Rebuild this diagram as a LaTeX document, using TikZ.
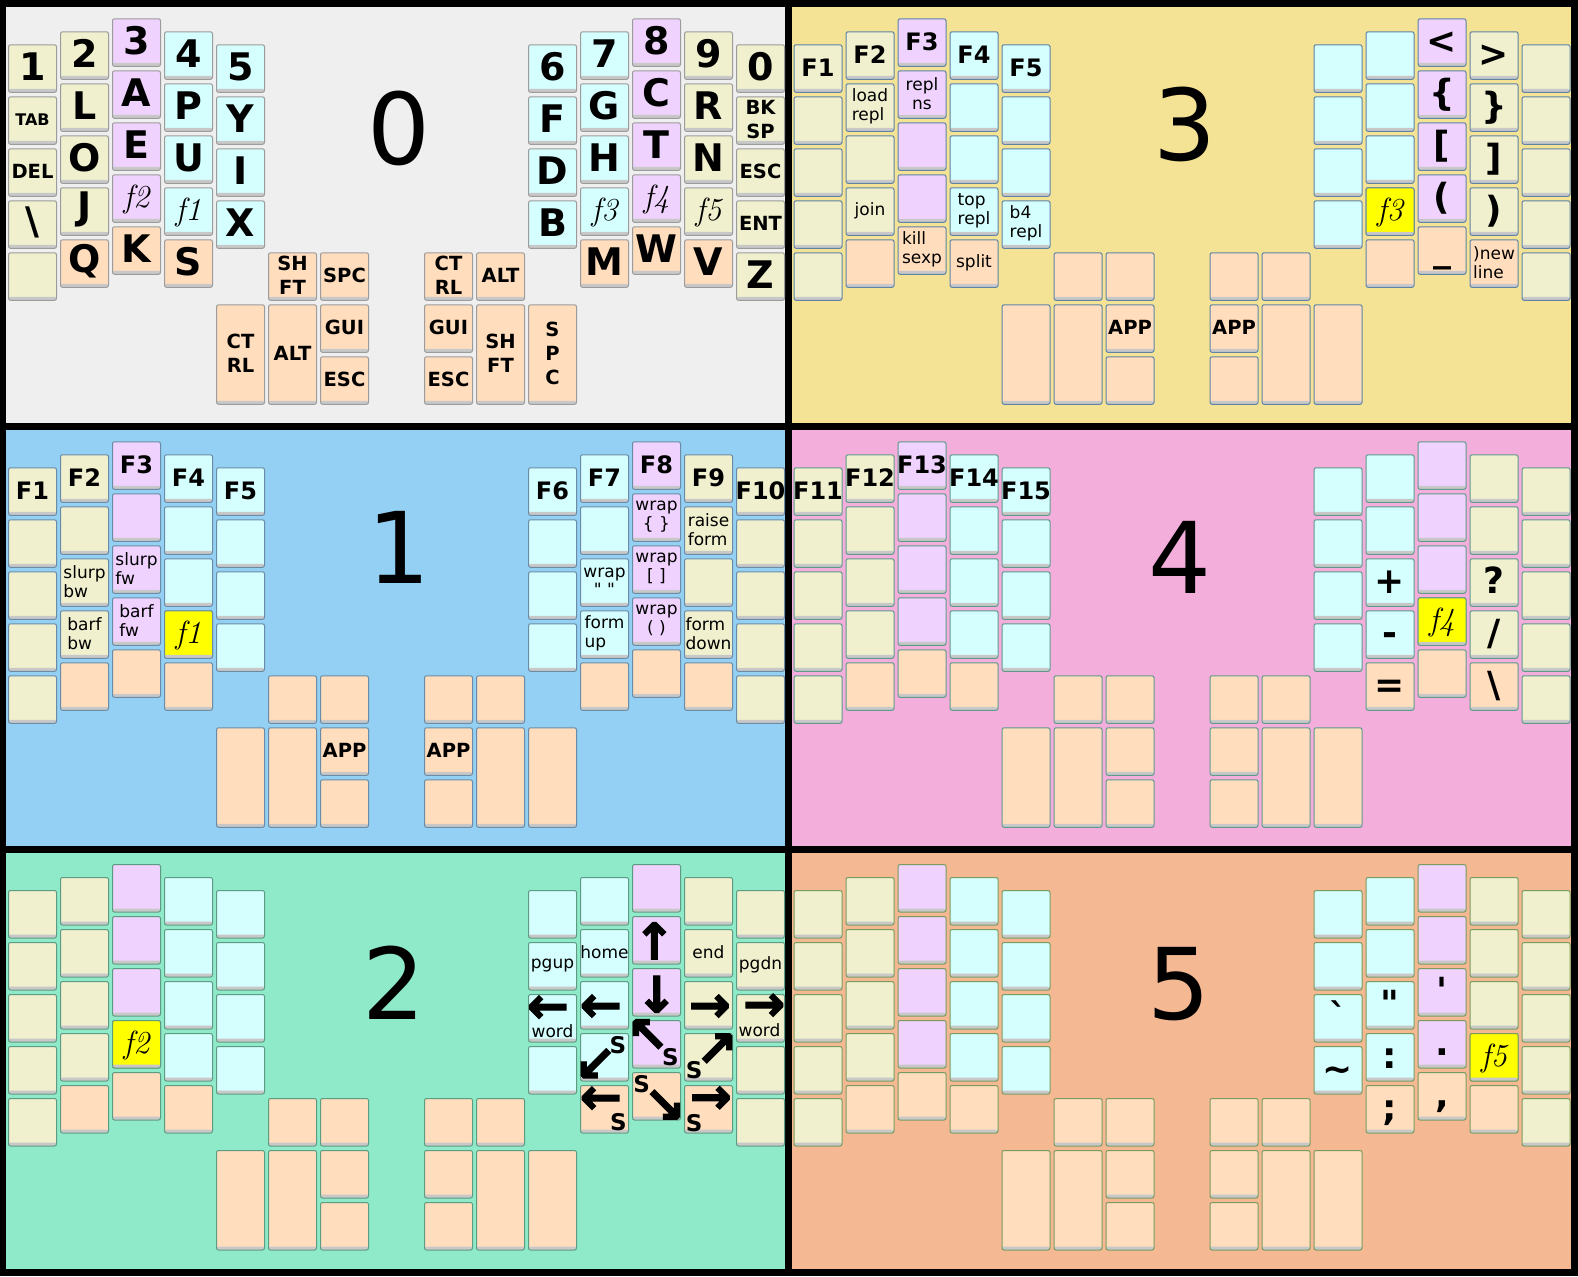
\documentclass[tikz,border=0pt]{standalone}
\usepackage{fontspec}
\newfontfamily\keyfont{DejaVu Sans}
\newfontfamily\arrowfont{DejaVu Sans Bold}[FakeBold=2.5]

\definecolor{kyel}{HTML}{F0F0CE}
\definecolor{kpur}{HTML}{F0D2FE}
\definecolor{kcya}{HTML}{D5FEFE}
\definecolor{kpea}{HTML}{FFDDBD}
\definecolor{hilite}{HTML}{FFFF00}
\definecolor{keyshade}{HTML}{C8C8C8}
\definecolor{bgzero}{HTML}{EFEFEF}
\definecolor{bgone}{HTML}{93D0F3}
\definecolor{bgtwo}{HTML}{8EEAC8}
\definecolor{bgthree}{HTML}{F4E394}
\definecolor{bgfour}{HTML}{F4AEDB}
\definecolor{bgfive}{HTML}{F4B893}
\definecolor{edgezero}{HTML}{9C9C9C}
\definecolor{edgeone}{HTML}{6A8CA6}
\definecolor{edgetwo}{HTML}{5D9C82}
\definecolor{edgethree}{HTML}{5E83A5}
\definecolor{edgefour}{HTML}{5F9A8D}
\definecolor{edgefive}{HTML}{789C5E}
\colorlet{keyedge}{edgezero}

\tikzset{
  key/.style={rectangle, rounded corners=2pt, draw=keyedge, line width=1pt, fill=#1,
    minimum width=48pt, minimum height=47.5pt, inner sep=0pt,
    path picture={\fill[keyshade] ([yshift=3.5pt]path picture bounding box.south west)
      rectangle (path picture bounding box.south east);}},
  tall/.style={minimum height=99.5pt},
  big/.style={font=\keyfont\bfseries\fontsize{38}{38}\selectfont, inner sep=0pt, yshift=2pt},
  mid/.style={font=\keyfont\bfseries\fontsize{19.5}{24}\selectfont, align=center, inner sep=0pt, yshift=1pt},
  fnk/.style={font=\keyfont\bfseries\fontsize{24}{24}\selectfont, inner sep=0pt, yshift=0.7pt},
  word/.style={font=\keyfont\fontsize{17}{18.5}\selectfont, align=left, inner sep=0pt, yshift=1pt},
  sym/.style={font=\keyfont\bfseries\fontsize{36}{36}\selectfont, text height=27pt, text depth=4.7pt, inner sep=0pt},
  fun/.style={font=\rmfamily\itshape\fontsize{32}{32}\selectfont, inner sep=0pt, yshift=-1pt},
  arr/.style={font=\arrowfont\fontsize{50}{50}\selectfont, inner sep=0pt},
  sft/.style={font=\keyfont\bfseries\fontsize{23}{23}\selectfont, inner sep=0pt},
  layer/.style={font=\keyfont\fontsize{99}{99}\selectfont, inner sep=0pt},
}

% the same 42 keys in every layer, named k<column>-<row>
\newcommand{\keyboard}{%
  \foreach \cc/\yy/\kk in {0/37.3/kyel, 1/24.3/kyel, 2/11.3/kpur, 3/24.3/kcya, 4/37.3/kcya,
      10/37.3/kcya, 11/24.3/kcya, 12/11.3/kpur, 13/24.3/kyel, 14/37.3/kyel}
    \foreach \rr in {1,...,4}
      \node[key=\kk] (k\cc-\rr) at (26.5+52*\cc, \yy+24.25+52*\rr-52) {};
  \foreach \cc/\yy/\kk in {0/37.3/kyel, 1/24.3/kpea, 2/11.3/kpea, 3/24.3/kpea,
      11/24.3/kpea, 12/11.3/kpea, 13/24.3/kpea, 14/37.3/kyel}
    \node[key=\kk] (k\cc-5) at (26.5+52*\cc, \yy+232.25) {};
  \foreach \cc in {5,6,8,9}
    \node[key=kpea] (k\cc-5) at (26.5+52*\cc, 269.55) {};
  \foreach \cc in {6,8} {
    \node[key=kpea] (k\cc-6) at (26.5+52*\cc, 321.55) {};
    \node[key=kpea] (k\cc-7) at (26.5+52*\cc, 373.55) {};
  }
  \foreach \cc in {4,5,9,10}
    \node[key=kpea, tall] (k\cc-6) at (26.5+52*\cc, 347.55) {};
}

\begin{document}
\begin{tikzpicture}[x=1pt, y=-1pt]
\useasboundingbox (0,0) rectangle (1578,1276);
\fill[black] (0,0) rectangle (1578,1276);

% layer 0
\begin{scope}[shift={(6,7)}, name prefix=p0-]
  \colorlet{keyedge}{edgezero}
  \fill[bgzero] (0,0) rectangle (779,416.3);
  \clip (0,0) rectangle (779,416.3);
  \keyboard
  \node[layer] (num) at (393,121.3) {0};
  \foreach \id/\txt in {0-1/1, 1-1/2, 2-1/3, 3-1/4, 4-1/5, 1-2/L, 2-2/A, 3-2/P, 4-2/Y,
      1-3/O, 2-3/E, 3-3/U, 4-3/I, 0-4/\textbackslash, 1-4/J, 4-4/X, 1-5/Q, 2-5/K, 3-5/S,
      10-1/6, 11-1/7, 12-1/8, 13-1/9, 14-1/0, 10-2/F, 11-2/G, 12-2/C, 13-2/R,
      10-3/D, 11-3/H, 12-3/T, 13-3/N, 10-4/B, 11-5/M, 12-5/W, 13-5/V, 14-5/Z}
    \node[big] (l\id) at (k\id) {\txt};
  \foreach \id/\txt in {2-4/f2, 3-4/f1, 11-4/f3, 12-4/f4, 13-4/f5}
    \node[fun] (l\id) at (k\id) {\txt};
  \foreach \id/\txt in {0-3/DEL, 14-2/BK\\SP, 14-3/ESC, 14-4/ENT, 5-5/SH\\FT, 6-5/SPC,
      4-6/CT\\RL, 5-6/ALT, 6-6/GUI, 6-7/ESC, 8-5/CT\\RL, 9-5/ALT, 8-6/GUI, 8-7/ESC,
      9-6/SH\\FT, 10-6/S\\P\\C}
    \node[mid] (l\id) at (k\id) {\txt};
  \node[mid, font=\keyfont\bfseries\fontsize{16}{16}\selectfont] (l0-2) at (k0-2) {TAB};
\end{scope}

% layer 1
\begin{scope}[shift={(6,430)}, name prefix=p1-]
  \colorlet{keyedge}{edgeone}
  \fill[bgone] (0,0) rectangle (779,416.3);
  \clip (0,0) rectangle (779,416.3);
  \keyboard
  \node[layer] (num) at (393,117) {1};
  \foreach \id/\txt in {0-1/F1, 1-1/F2, 2-1/F3, 3-1/F4, 4-1/F5,
      10-1/F6, 11-1/F7, 12-1/F8, 13-1/F9, 14-1/F10}
    \node[fnk] (l\id) at (k\id) {\txt};
  \foreach \id/\txt in {1-3/slurp\\bw, 1-4/barf\\bw, 2-3/slurp\\fw, 2-4/barf\\fw,
      11-4/form\\up, 13-2/raise\\form, 13-4/form\\down}
    \node[word] (l\id) at (k\id) {\txt};
  \foreach \id/\txt in {11-3/wrap\\" ", 12-2/wrap\\\{ \}, 12-3/wrap\\{[ ]}, 12-4/wrap\\( )}
    \node[word, align=center] (l\id) at (k\id) {\txt};
  \foreach \id in {6-6, 8-6}
    \node[mid] (l\id) at (k\id) {APP};
  \node[key=hilite] (hot) at (k3-4) {};
  \node[fun] (lhot) at (hot) {f1};
\end{scope}

% layer 2
\begin{scope}[shift={(6,852.7)}, name prefix=p2-]
  \colorlet{keyedge}{edgetwo}
  \fill[bgtwo] (0,0) rectangle (779,416.3);
  \clip (0,0) rectangle (779,416.3);
  \keyboard
  \node[layer] (num) at (388,130.3) {2};
  \node[key=hilite] (hot) at (k2-4) {};
  \node[fun] (lhot) at (hot) {f2};
  \foreach \id/\txt in {10-2/pgup, 11-2/home, 13-2/end, 14-2/pgdn}
    \node[word] (l\id) at (k\id) {\txt};
  \foreach \n/\id/\dx/\dy/\txt in {1/10-3/-4.6/-9/←, 2/14-3/3.7/-11/→, 3/11-3/-3.7/3/←,
      4/13-3/1.3/3/→, 5/12-2/-2.2/0.6/↑, 6/12-3/0.2/2/↓, 7/11-4/-9.2/7.8/↙,
      8/11-5/-3.7/-8.9/←, 9/12-4/-9/-8.4/↖, 10/12-5/8/10/↘, 11/13-4/8.2/-7.3/↗,
      12/13-5/2.3/-9.3/→}
    \node[arr] (a\n) at ([shift={(\dx,\dy)}]k\id) {\txt};
  \foreach \n/\id/\dx/\dy in {7/11-4/13.5/-12, 8/11-5/13.8/13.3, 9/12-4/13.8/13.3,
      10/12-5/-14.8/-12, 11/13-4/-14.3/13.3, 12/13-5/-14.3/14}
    \node[sft] (s\n) at ([shift={(\dx,\dy)}]k\id) {S};
  \node[word] (w1) at ([shift={(0,13.5)}]k10-3) {word};
  \node[word] (w2) at ([shift={(-1,12.4)}]k14-3) {word};
\end{scope}

% layer 3
\begin{scope}[shift={(791.5,7)}, name prefix=p3-]
  \colorlet{keyedge}{edgethree}
  \fill[bgthree] (0,0) rectangle (779,416.3);
  \clip (0,0) rectangle (779,416.3);
  \keyboard
  \node[layer] (num) at (393.5,117.4) {3};
  \foreach \id/\txt in {0-1/F1, 1-1/F2, 2-1/F3, 3-1/F4, 4-1/F5}
    \node[fnk] (l\id) at (k\id) {\txt};
  \foreach \id/\txt in {1-2/load\\repl, 1-4/join, 2-5/kill\\sexp, 3-4/top\\repl,
      3-5/split, 4-4/b4\\repl, 13-5/)new\\line}
    \node[word] (l\id) at (k\id) {\txt};
  \node[word, align=center] (l2-2) at (k2-2) {repl\\ns};
  \foreach \id/\txt in {12-1/<, 12-2/\{, 12-3/[, 12-4/(, 12-5/\_,
      13-1/>, 13-2/\}, 13-3/], 13-4/)}
    \node[sym] (l\id) at (k\id) {\txt};
  \foreach \id in {6-6, 8-6}
    \node[mid] (l\id) at (k\id) {APP};
  \node[key=hilite] (hot) at (k11-4) {};
  \node[fun] (lhot) at (hot) {f3};
\end{scope}

% layer 4
\begin{scope}[shift={(791.5,430)}, name prefix=p4-]
  \colorlet{keyedge}{edgefour}
  \fill[bgfour] (0,0) rectangle (779,416.3);
  \clip (0,0) rectangle (779,416.3);
  \keyboard
  \node[layer] (num) at (388,127.3) {4};
  \foreach \id/\txt in {0-1/F11, 1-1/F12, 2-1/F13, 3-1/F14, 4-1/F15}
    \node[fnk] (l\id) at (k\id) {\txt};
  \foreach \id/\txt in {11-3/+, 11-4/-, 11-5/=, 13-3/?, 13-4/{/}, 13-5/\textbackslash}
    \node[sym] (l\id) at (k\id) {\txt};
  \node[key=hilite] (hot) at (k12-4) {};
  \node[fun] (lhot) at (hot) {f4};
\end{scope}

% layer 5
\begin{scope}[shift={(791.5,852.7)}, name prefix=p5-]
  \colorlet{keyedge}{edgefive}
  \fill[bgfive] (0,0) rectangle (779,416.3);
  \clip (0,0) rectangle (779,416.3);
  \keyboard
  \node[layer] (num) at (387.8,131) {5};
  \foreach \id/\txt in {10-3/`, 10-4/\textasciitilde, 11-3/", 11-4/:, 11-5/;,
      12-3/', 12-4/., 12-5/{,}}
    \node[sym] (l\id) at (k\id) {\txt};
  \node[key=hilite] (hot) at (k13-4) {};
  \node[fun] (lhot) at (hot) {f5};
\end{scope}
\end{tikzpicture}
\end{document}
